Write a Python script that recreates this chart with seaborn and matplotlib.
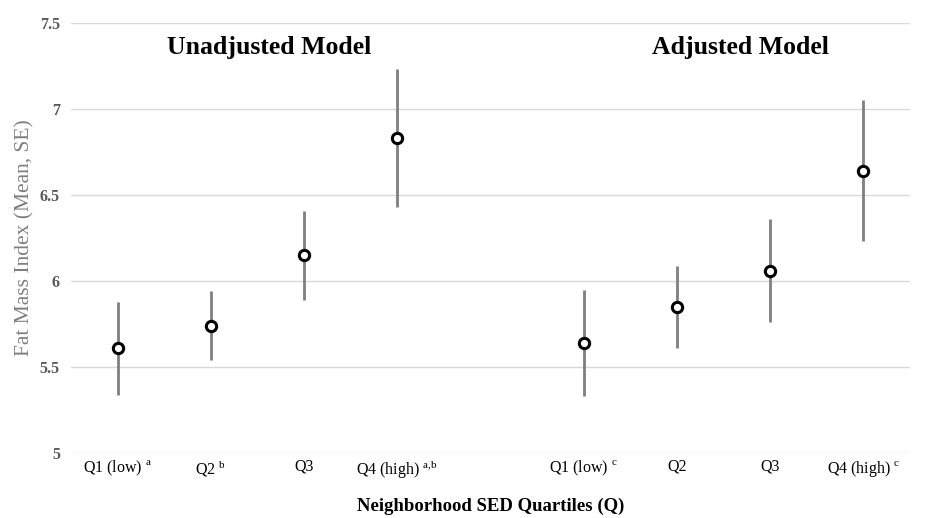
import pandas as pd
import matplotlib.pyplot as plt
import seaborn as sns
import numpy as np

# values
positions = [1, 2, 3, 4, 6, 7, 8, 9]
model = ["Unadjusted"] * 4 + ["Adjusted"] * 4
quartile_labels = ["Q1 (low) $^{\\mathrm{a}}$", "Q2 $^{\\mathrm{b}}$", "Q3", "Q4 (high) $^{\\mathrm{a{,}b}}$",
                   "Q1 (low) $^{\\mathrm{c}}$", "Q2", "Q3", "Q4 (high) $^{\\mathrm{c}}$"]
fmi_mean = [5.61, 5.74, 6.15, 6.83, 5.64, 5.85, 6.06, 6.64]
fmi_se = [0.27, 0.20, 0.26, 0.40, 0.31, 0.24, 0.30, 0.41]

df = pd.DataFrame({"pos": positions, "model": model, "mean": fmi_mean, "se": fmi_se})

sns.set_style("white")
plt.rcParams['font.family'] = ['Liberation Serif', 'DejaVu Serif']
plt.rcParams['mathtext.fontset'] = 'custom'
plt.rcParams['mathtext.rm'] = 'Liberation Serif'
plt.rcParams['text.color'] = 'black'
plt.rcParams['axes.labelcolor'] = 'black'
plt.rcParams['xtick.color'] = 'black'

fig = plt.figure(figsize=(9.39, 5.18), dpi=100)
ax = fig.add_axes([0.0756, 0.1255, 0.8935, 0.83])

ax.errorbar(df["pos"], df["mean"], yerr=df["se"], fmt="none", ecolor="#7f7f7f", elinewidth=2, capsize=0, zorder=2)
sns.scatterplot(data=df, x="pos", y="mean", ax=ax, marker="o", s=55, facecolor="white",
                edgecolor="black", linewidth=2.2, zorder=3, legend=False)

ax.set_xlim(0.5, 9.5)
ax.set_ylim(5, 7.5)
ax.set_yticks(np.arange(5, 7.51, 0.5))
ax.set_yticklabels(["5", "5.5", "6", "6.5", "7", "7.5"])
ax.yaxis.grid(True, color="#d9d9d9", linewidth=1)
ax.set_xticks(positions)
ax.set_xticklabels(quartile_labels, fontsize=11.5)
ax.tick_params(axis="x", length=0, pad=4)
ax.tick_params(axis="y", length=0, pad=8, labelsize=11.5, labelcolor="#595959")
for lbl in ax.get_yticklabels():
    lbl.set_fontweight("bold")
for side in ["top", "right", "left", "bottom"]:
    ax.spines[side].set_visible(False)

ax.set_ylabel("Fat Mass Index (Mean, SE)", fontsize=15.5, color="#7f7f7f", labelpad=4)
ax.set_xlabel("Neighborhood SED Quartiles (Q)", fontsize=13.5, fontweight="bold", labelpad=12)

ax.text(2.63, 7.36, "Unadjusted Model", ha="center", va="center", fontsize=18.5, fontweight="bold")
ax.text(7.68, 7.36, "Adjusted Model", ha="center", va="center", fontsize=18.5, fontweight="bold")

fig.savefig("out.png", dpi=100)
